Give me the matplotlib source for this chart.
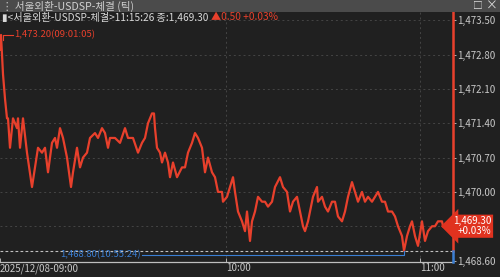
import numpy as np
import matplotlib.pyplot as plt
from matplotlib.patches import Rectangle

plt.rcParams['font.family'] = ['Noto Sans CJK KR', 'DejaVu Sans']

# tick index (tick chart, so x is trade count not clock time) and price
tick_idx = [0, 1, 3, 5, 7, 8, 10, 13, 17, 18, 20, 23, 27, 32, 35, 38, 42, 45, 48, 52,
            55, 57, 60, 63, 67, 71, 73, 77, 80, 83, 87, 90, 95, 98, 102, 105, 108, 110, 115, 120,
            125, 128, 133, 138, 142, 145, 148, 150, 152, 154, 155, 157, 160, 162, 165, 168, 170, 173, 177, 182,
            185, 188, 192, 195, 198, 202, 205, 208, 212, 215, 218, 222, 223, 227, 230, 233, 235, 238, 242, 245,
            247, 250, 252, 255, 258, 262, 265, 268, 272, 275, 280, 283, 287, 290, 293, 297, 300, 303, 305, 308,
            313, 317, 318, 322, 325, 328, 332, 335, 338, 342, 345, 348, 352, 355, 358, 362, 365, 368, 372, 375,
            378, 382, 385, 388, 392, 395, 398, 402, 404, 407, 410, 412, 415, 418, 422, 425, 428, 432, 435, 438,
            442, 443]
price = [1472.9, 1473.2, 1472.4, 1471.9, 1471.5, 1471.5, 1470.9, 1471.5, 1471.3, 1471.5, 1470.9, 1471.5, 1470.8, 1470.1, 1470.5, 1470.9, 1470.8, 1470.9, 1470.4, 1471.0,
         1471.1, 1470.9, 1471.3, 1471.1, 1470.7, 1470.1, 1470.4, 1470.9, 1470.5, 1470.7, 1470.8, 1471.1, 1471.2, 1471.1, 1471.3, 1471.2, 1470.9, 1471.1, 1471.1, 1471.0,
         1471.3, 1471.1, 1471.1, 1470.8, 1471.0, 1471.1, 1471.4, 1471.5, 1471.6, 1471.6, 1471.3, 1470.9, 1470.8, 1470.6, 1470.8, 1470.6, 1470.3, 1470.6, 1470.3, 1470.5,
         1470.5, 1470.8, 1471.0, 1471.2, 1471.1, 1470.9, 1470.4, 1470.7, 1470.4, 1470.3, 1470.0, 1470.0, 1469.8, 1469.9, 1470.1, 1470.3, 1470.0, 1469.6, 1469.4, 1469.2,
         1469.6, 1469.0, 1469.4, 1469.6, 1469.9, 1469.8, 1469.8, 1469.7, 1469.8, 1470.1, 1470.3, 1470.1, 1470.0, 1469.6, 1469.8, 1469.9, 1469.6, 1469.3, 1469.2, 1469.4,
         1469.9, 1470.1, 1469.8, 1469.9, 1469.7, 1469.6, 1469.8, 1469.8, 1469.5, 1469.4, 1469.6, 1469.9, 1470.2, 1470.0, 1469.8, 1470.0, 1469.8, 1469.9, 1469.8, 1469.9,
         1470.0, 1469.8, 1469.8, 1469.6, 1469.6, 1469.5, 1469.3, 1469.1, 1468.8, 1469.1, 1469.3, 1469.4, 1469.1, 1468.9, 1469.4, 1469.0, 1469.2, 1469.3, 1469.3, 1469.4,
         1469.4, 1469.3]

y_ticks = [1473.5, 1472.8, 1472.1, 1471.4, 1470.7, 1470.0, 1468.6]
grid_levels = [1473.5, 1472.8, 1472.1, 1471.4, 1470.7, 1470.0, 1469.3]
time_ticks = [0, 226, 420]
time_labels = ['2025/12/08-09:00', '10:00', '11:00']

high_price, high_idx, high_time = 1473.2, 1, '09:01:05'
low_price, low_idx, low_time = 1468.8, 404, '10:55:24'
last_price, change, change_pct, last_time = 1469.3, 0.50, 0.03, '11:15:26'

bg = '#202020'
red = '#e8402c'
blue = '#3b7fd4'
txt = '#c8c8c8'
fs = 7.0

def fmt(v):
    return f'{v:,.2f}'

fig = plt.figure(figsize=(5, 2.77), dpi=100, facecolor=bg)
ax = fig.add_axes([0, 0.054, 0.906, 0.903], facecolor=bg)

# grid
for lv in grid_levels:
    ax.axhline(lv, color='#454545', lw=0.7, ls=(0, (2, 3)), zorder=1)
for t in time_ticks[1:]:
    ax.axvline(t, color='#454545', lw=0.7, ls=(0, (2, 3)), zorder=1)

# low level dashed line
ax.axhline(low_price, color='#bfbfbf', lw=0.8, ls=(0, (2.5, 2)), zorder=2)

ax.plot(tick_idx, price, color=red, lw=1.6, zorder=3)

ax.set_xlim(0, 453)
ax.set_ylim(1468.57, 1473.67)

# right axis labels
ax.yaxis.tick_right()
ax.set_yticks(y_ticks)
ax.set_yticklabels([fmt(v) for v in y_ticks])
ax.tick_params(axis='y', colors=txt, labelsize=fs, length=2, width=0.6, pad=1)

ax.set_xticks(time_ticks)
ax.set_xticklabels(time_labels, ha='left')
ax.tick_params(axis='x', colors=txt, labelsize=fs, length=3, width=0.6, pad=1, direction='in')

for s in ['top', 'left']:
    ax.spines[s].set_visible(False)
ax.spines['bottom'].set_color('#bdbdbd')
ax.spines['bottom'].set_linewidth(0.9)
ax.spines['right'].set_visible(False)

# right edge price bar: red above the low, blue below
ax.plot([453, 453], [low_price, 1473.67], color=red, lw=1.8, clip_on=False, zorder=4)
ax.plot([453, 453], [1468.57, low_price], color=blue, lw=1.8, clip_on=False, zorder=4)

# high annotation
ax.plot([3, 3, 13], [high_price - 0.1, high_price, high_price], color=red, lw=0.8, zorder=4)
ax.text(14, high_price, f'{fmt(high_price)}({high_time})', color=red, fontsize=6.8,
        va='center', ha='left', zorder=5)

# low annotation
ax.plot([142, low_idx, low_idx], [low_price - 0.08, low_price - 0.08, low_price], color=blue, lw=0.8, zorder=4)
ax.text(141, low_price - 0.08, f'{fmt(low_price)}({low_time})', color=blue, fontsize=6.8,
        va='center', ha='right', zorder=5)

# last price tag
ax.text(1.0, last_price, f'{fmt(last_price)}\n+{change_pct:.2f}%', transform=ax.get_yaxis_transform(),
        color='white', fontsize=fs, ha='left', va='center', linespacing=0.95, clip_on=False, zorder=6,
        multialignment='right',
        bbox=dict(boxstyle='larrow,pad=0.18', fc='#e0321f', ec='none'))

# title bar
fig.patches.append(Rectangle((0, 1 - 12 / 277), 1, 12 / 277, transform=fig.transFigure,
                             facecolor='#4b4b4b', edgecolor='none', zorder=0))
fig.text(0.004, 1 - 6 / 277, '⋮ 서울외환-USDSP-체결 (틱)', color='#d0d0d0', fontsize=7.6,
         va='center', ha='left')
fig.text(0.955, 1 - 6 / 277, '□', color='#dddddd', fontsize=7, va='center', ha='center')
fig.text(0.984, 1 - 6 / 277, '×', color='#dddddd', fontsize=8.5, va='center', ha='center')

# header line
hdr = fig.text(0.004, 1 - 17 / 277, f'▮<서울외환-USDSP-체결>{last_time} 종:{fmt(last_price)} ',
               color='#d8d8d8', fontsize=7.3, va='center', ha='left')
fig.canvas.draw()
bb = hdr.get_window_extent()
x1 = bb.x1 / fig.bbox.width
fig.text(x1, 1 - 17 / 277, f'▲{change:.2f} +{change_pct:.2f}%', color=red, fontsize=7.3,
         va='center', ha='left')

fig.savefig('out.png', dpi=100, facecolor=bg)
